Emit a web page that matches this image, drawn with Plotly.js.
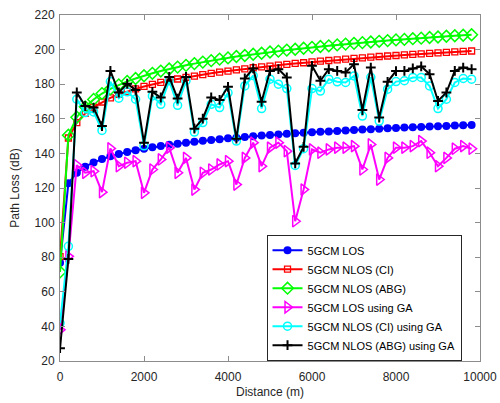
<!DOCTYPE html>
<html>
<head>
<meta charset="utf-8">
<script src="https://cdn.plot.ly/plotly-3.0.1.min.js"></script>
<style>html,body{margin:0;padding:0;background:#fff;}#chart{width:500px;height:403px;}</style>
</head>
<body>
<div id="chart"></div>
<script>
// Distance (m)
const distance = [1,200,400,600,800,1000,1200,1400,1600,1800,2000,2200,2400,2600,2800,3000,3200,3400,3600,3800,4000,4200,4400,4600,4800,5000,5200,5400,5600,5800,6000,6200,6400,6600,6800,7000,7200,7400,7600,7800,8000,8200,8400,8600,8800,9000,9200,9400,9600,9800];

const losCM = [76.8,122.8,128.8,132.3,134.8,136.7,138.3,139.6,140.8,141.8,142.7,143.5,144.3,145.0,145.6,146.2,146.8,147.3,147.8,148.2,148.7,149.1,149.5,149.9,150.3,150.6,150.9,151.3,151.6,151.9,152.2,152.5,152.7,153.0,153.3,153.5,153.8,154.0,154.2,154.5,154.7,154.9,155.1,155.3,155.5,155.7,155.9,156.1,156.2,156.4];

const nlosCI = [80.3,148.9,157.8,163.1,166.8,169.7,172.1,174.1,175.8,177.3,178.7,179.9,181.0,182.1,183.0,183.9,184.7,185.5,186.3,187.0,187.6,188.3,188.9,189.5,190.0,190.5,191.0,191.5,192.0,192.4,192.9,193.3,193.7,194.1,194.5,194.9,195.2,195.6,196.0,196.3,196.6,196.9,197.2,197.5,197.8,198.1,198.4,198.7,199.0,199.2];

const nlosABG = [71.5,150.5,160.9,166.9,171.2,174.6,177.3,179.6,181.6,183.3,184.9,186.3,187.6,188.8,189.9,190.9,191.9,192.8,193.6,194.5,195.2,196.0,196.6,197.3,197.9,198.6,199.1,199.7,200.2,200.8,201.3,201.8,202.2,202.7,203.2,203.6,204.0,204.4,204.8,205.2,205.6,205.9,206.3,206.6,207.0,207.3,207.7,208.0,208.3,208.6];

const losGA = [38.0,80.5,133.2,128.8,129.7,117.6,142.9,132.6,134.6,135.5,117.2,130.7,136.5,143.3,128.8,137.4,119.1,128.8,130.7,133.6,135.5,122.0,137.4,146.2,132.6,143.3,146.2,141.3,100.8,119.1,142.3,140.4,142.3,143.3,143.3,144.2,130.7,145.2,124.9,137.4,143.3,143.3,144.2,147.1,140.4,132.6,137.4,142.7,144.2,142.7];

const nlosCIGA = [41.9,86.3,171.3,163.6,164.0,153.3,181.5,171.9,175.6,171.3,144.4,173.2,168.4,182.0,167.8,182.0,152.3,157.8,168.4,166.5,175.0,147.1,179.0,185.0,165.9,182.9,180.0,177.5,133.0,142.7,177.5,176.0,182.9,181.4,181.0,184.8,161.6,184.0,158.7,177.1,181.5,182.0,183.9,183.9,179.0,165.9,171.3,181.0,183.3,182.9];

const nlosABGGA = [27.4,79.0,175.2,167.4,166.5,155.8,187.7,175.2,180.3,176.7,146.2,175.6,172.3,184.2,171.7,184.2,154.3,160.1,172.3,170.9,178.5,148.5,183.3,189.1,169.8,187.7,188.7,183.9,134.2,143.8,190.6,182.0,188.7,187.7,186.8,191.6,165.1,189.6,160.7,181.4,187.6,187.7,189.1,190.3,185.8,170.3,175.2,187.7,189.6,188.7];

const names = ['5GCM LOS','5GCM NLOS (CI)','5GCM NLOS (ABG)','5GCM LOS using GA','5GCM NLOS (CI) using GA','5GCM NLOS (ABG) using GA'];

function tr(y, name, color, symbol, size, lw) {
  return {
    x: distance, y: y, name: name, type: 'scatter', mode: 'lines+markers',
    line: {color: color, width: 2},
    marker: {symbol: symbol, size: size, color: color,
             line: {color: color, width: lw}}
  };
}

const data = [
  tr(losCM, names[0], '#0000ff', 'circle', 8, 0),
  tr(nlosCI, names[1], '#ff0000', 'square-open', 6, 1.3),
  tr(nlosABG, names[2], '#00ff00', 'diamond-open', 9, 1.5),
  tr(losGA, names[3], '#ff00ff', 'triangle-right-open', 10, 1.5),
  tr(nlosCIGA, names[4], '#00ffff', 'circle-open', 8, 1.5),
  tr(nlosABGGA, names[5], '#000000', 'cross-thin-open', 7, 2)
];

const fnt = 'Liberation Sans, Arial, sans-serif';
const axisCommon = {
  showgrid: false, zeroline: false, showline: true, mirror: 'ticks',
  linecolor: '#8c8c8c', linewidth: 1, ticks: 'inside', ticklen: 5,
  tickcolor: '#8c8c8c', tickfont: {family: fnt, size: 12, color: '#262626'}
};

const layout = {
  width: 500, height: 403,
  margin: {l: 60, r: 20, t: 15, b: 42},
  paper_bgcolor: '#fff', plot_bgcolor: '#fff',
  showlegend: true,
  xaxis: Object.assign({}, axisCommon, {
    range: [0, 10000], tickvals: [0,2000,4000,6000,8000,10000], ticktext: ['0','2000','4000','6000','8000','10000'],
    ticklabelstandoff: 5,
    title: {text: 'Distance (m)', font: {family: fnt, size: 12, color: '#262626'}, standoff: 4}
  }),
  yaxis: Object.assign({}, axisCommon, {
    range: [20, 220], tickvals: [20,40,60,80,100,120,140,160,180,200,220],
    ticklabelstandoff: 2,
    title: {text: 'Path Loss (dB)', font: {family: fnt, size: 12, color: '#262626'}, standoff: 12}
  }),
  legend: {
    x: 0.956, xanchor: 'right', y: 0.365, yanchor: 'top',
    bgcolor: '#ffffff', bordercolor: '#262626', borderwidth: 1,
    font: {family: fnt, size: 11, color: '#000'},
    tracegroupgap: 0, itemwidth: 30
  }
};

Plotly.newPlot('chart', data, layout, {displayModeBar: false, staticPlot: true});
</script>
</body>
</html>
